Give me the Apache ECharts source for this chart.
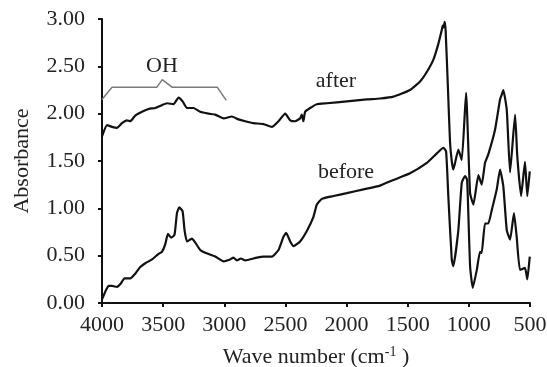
<!DOCTYPE html>
<html>
<head>
<meta charset="utf-8">
<script src="https://cdn.jsdelivr.net/npm/echarts@6/dist/echarts.min.js"></script>
<style>
  html, body { margin: 0; padding: 0; background: #fff; }
  #chart { width: 547px; height: 367px; }
</style>
</head>
<body>
<div id="chart"></div>
<script>
// [wave number (cm-1), absorbance]
const afterData = [
  [4000,1.76],[3959,1.88],[3918,1.86],[3877,1.85],[3837,1.90],[3796,1.93],[3769,1.92],
  [3728,1.98],[3673,2.02],[3619,2.05],[3564,2.06],[3510,2.09],[3469,2.11],[3415,2.10],
  [3374,2.17],[3341,2.13],[3305,2.06],[3251,2.06],[3197,2.02],[3129,2.00],[3074,1.99],
  [3006,1.95],[2938,1.97],[2884,1.94],[2829,1.92],[2761,1.90],[2679,1.89],[2611,1.86],
  [2557,1.92],[2502,2.00],[2461,1.93],[2420,1.92],[2380,1.95],[2366,1.99],[2353,1.92],
  [2339,2.02],[2298,2.06],[2243,2.10],[2161,2.11],[1998,2.13],[1834,2.15],[1726,2.16],
  [1617,2.18],[1481,2.25],[1399,2.34],[1344,2.44],[1290,2.57],[1249,2.74],[1222,2.88],
  [1214,2.93],[1207,2.91],[1198,2.97],[1190,2.88],[1172,2.30],[1154,1.70],[1140,1.50],
  [1127,1.41],[1086,1.62],[1058,1.51],[1023,2.22],[990,1.16],[963,1.04],[922,1.35],
  [895,1.25],[868,1.48],[841,1.57],[786,1.83],[745,2.15],[731,2.20],[718,2.25],[690,2.04],
  [663,1.38],[622,1.99],[604,1.55],[573,1.13],[541,1.49],[522,1.13],[502,1.39]
];
const beforeData = [
  [4000,0.04],[3973,0.12],[3946,0.18],[3918,0.18],[3877,0.17],[3850,0.20],[3815,0.26],
  [3769,0.26],[3728,0.31],[3687,0.38],[3646,0.42],[3591,0.46],[3537,0.52],[3510,0.54],
  [3483,0.62],[3461,0.73],[3434,0.69],[3407,0.72],[3387,0.95],[3368,1.01],[3341,0.97],
  [3325,0.77],[3305,0.65],[3265,0.68],[3238,0.64],[3197,0.56],[3156,0.53],[3074,0.49],
  [3006,0.44],[2952,0.46],[2925,0.48],[2897,0.45],[2864,0.47],[2829,0.45],[2733,0.48],
  [2679,0.49],[2611,0.49],[2557,0.56],[2516,0.70],[2494,0.74],[2461,0.65],[2434,0.60],
  [2380,0.65],[2325,0.76],[2271,0.91],[2243,1.04],[2202,1.10],[2107,1.13],[1998,1.16],
  [1862,1.20],[1726,1.24],[1617,1.30],[1481,1.37],[1344,1.48],[1262,1.58],[1208,1.64],
  [1186,1.60],[1168,1.13],[1140,0.46],[1127,0.39],[1086,0.77],[1058,1.27],[1031,1.34],
  [1014,1.30],[990,0.39],[968,0.16],[935,0.35],[909,0.54],[895,0.53],[868,0.84],[841,0.84],
  [813,0.98],[772,1.20],[745,1.41],[718,1.23],[690,0.77],[663,0.67],[631,0.95],[609,0.70],
  [582,0.35],[541,0.37],[522,0.25],[502,0.49]
];
const ohBracket = [
  [4000,2.15],[3918,2.28],[3551,2.28],[3507,2.36],[3428,2.28],[3058,2.28],[2984,2.14]
];
const xTicks = [500, 1000, 1500, 2000, 2500, 3000, 3500, 4000];
const yTicks = [0, 0.5, 1, 1.5, 2, 2.5, 3];

const font = '"Liberation Serif", "Times New Roman", serif';
const myChart = echarts.init(document.getElementById('chart'));
const option = {
  animation: false,
  backgroundColor: '#fff',
  grid: { left: 102, right: 17, top: 19, bottom: 64, outerBoundsMode: 'none' },
  xAxis: {
    type: 'value',
    inverse: true,
    min: xTicks[0],
    max: xTicks[xTicks.length - 1],
    interval: 500,
    name: 'Wave number (cm{sup|-1} )',
    nameLocation: 'middle',
    nameGap: 42,
    nameTextStyle: {
      fontFamily: font, fontSize: 22, color: '#222',
      rich: { sup: { fontFamily: font, fontSize: 14, color: '#222', padding: [0, 0, 10, 0] } }
    },
    axisLine: { lineStyle: { color: '#111', width: 2 } },
    axisTick: { length: 4, lineStyle: { color: '#111', width: 2 } },
    axisLabel: { fontFamily: font, fontSize: 22, color: '#222', margin: 11,
      formatter: v => String(v) },
    splitLine: { show: false }
  },
  yAxis: {
    type: 'value',
    min: yTicks[0],
    max: yTicks[yTicks.length - 1],
    interval: 0.5,
    name: 'Absorbance',
    nameLocation: 'middle',
    nameGap: 69,
    nameTextStyle: { fontFamily: font, fontSize: 22, color: '#222' },
    axisLine: { show: true, lineStyle: { color: '#111', width: 2 } },
    axisTick: { show: true, length: 4, lineStyle: { color: '#111', width: 2 } },
    axisLabel: { fontFamily: font, fontSize: 22, color: '#222', margin: 17,
      formatter: v => v.toFixed(2) },
    splitLine: { show: false }
  },
  series: [
    {
      name: 'after', type: 'line', data: afterData, showSymbol: false, smooth: 0.15,
      lineStyle: { color: '#111', width: 2.2 }
    },
    {
      name: 'before', type: 'line', data: beforeData, showSymbol: false, smooth: 0.15,
      lineStyle: { color: '#111', width: 2.2 }
    },
    {
      name: 'OH', type: 'line', data: ohBracket, showSymbol: false,
      lineStyle: { color: '#7a7a7a', width: 1.5 }
    }
  ],
  graphic: [
    { type: 'text', x: 162, y: 66, style: { text: 'OH', fontFamily: font, fontSize: 22, fill: '#222', align: 'center', verticalAlign: 'middle' } },
    { type: 'text', x: 336, y: 81, style: { text: 'after', fontFamily: font, fontSize: 22, fill: '#222', align: 'center', verticalAlign: 'middle' } },
    { type: 'text', x: 346, y: 172, style: { text: 'before', fontFamily: font, fontSize: 22, fill: '#222', align: 'center', verticalAlign: 'middle' } }
  ]
};
option && myChart.setOption(option);
</script>
</body>
</html>
